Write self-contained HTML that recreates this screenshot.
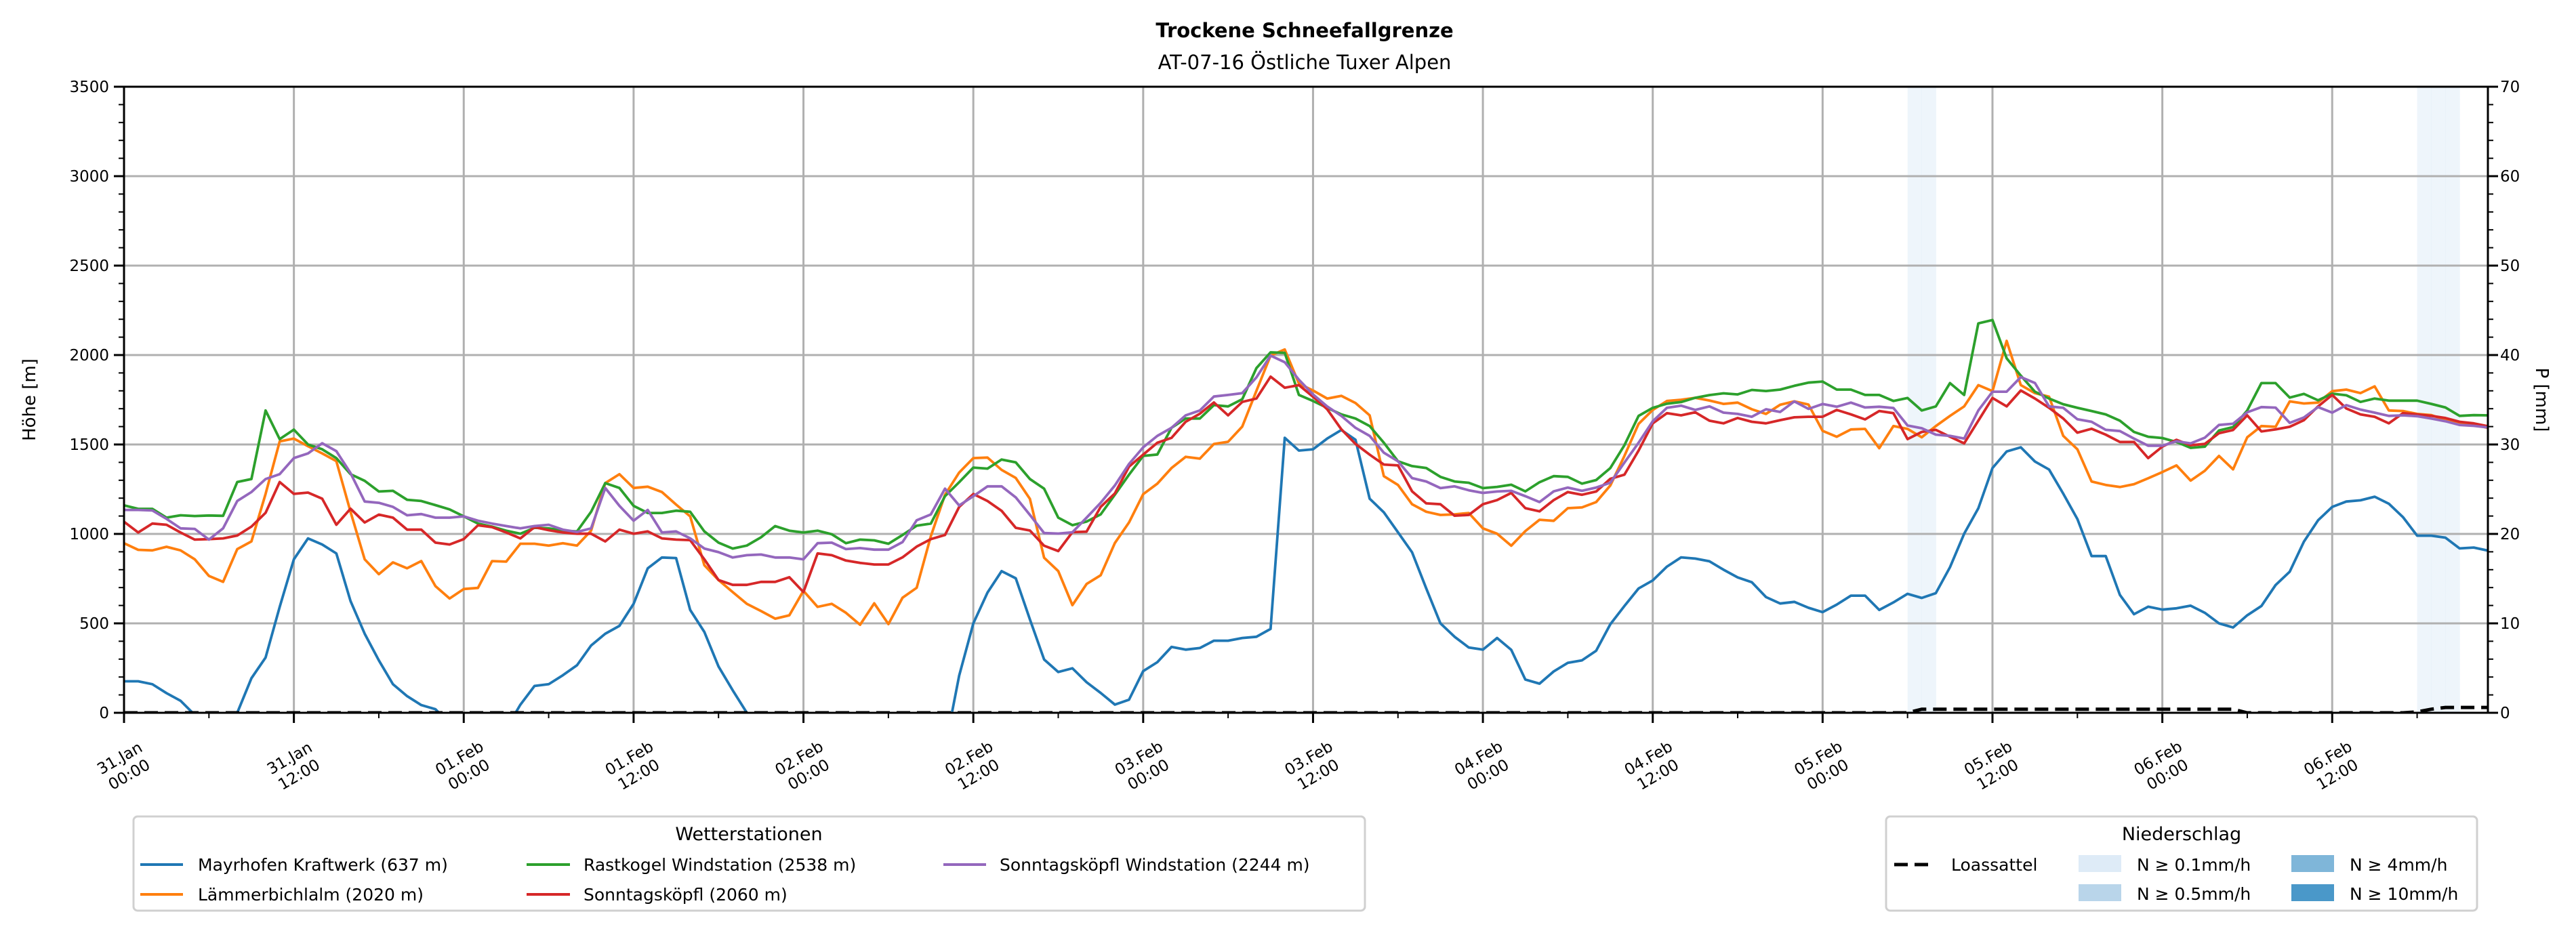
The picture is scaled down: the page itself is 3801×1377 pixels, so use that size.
<!DOCTYPE html>
<html><head><meta charset="utf-8">
<style>
html,body{margin:0;padding:0;background:#fff;}
svg{display:block;font-family:"DejaVu Sans","Liberation Sans",sans-serif;}
</style></head>
<body>
<svg id="chart" width="3801" height="1377" viewBox="0 0 3801 1377" xmlns="http://www.w3.org/2000/svg">
<defs><clipPath id="plotclip"><rect x="183" y="128" width="3488" height="924"/></clipPath></defs>
<rect x="0" y="0" width="3801" height="1377" fill="#fff"/>
<text x="1925" y="55" text-anchor="middle" font-size="29" font-weight="bold">Trockene Schneefallgrenze</text>
<text x="1925" y="102" text-anchor="middle" font-size="29">AT-07-16 Östliche Tuxer Alpen</text>
<g id="bands"></g>
<g id="grid"></g>
<g id="series" clip-path="url(#plotclip)"></g>
<g id="axes"></g>
<text x="0" y="0" transform="translate(52,590) rotate(-90)" text-anchor="middle" font-size="26">Höhe [m]</text>
<text x="0" y="0" transform="translate(3742,590) rotate(90)" text-anchor="middle" font-size="26">P [mm]</text>

<g>
<rect x="197" y="1205" width="1817" height="139" rx="6" fill="#fff" stroke="#d0d0d0" stroke-width="3"/>
<text x="1105" y="1240" text-anchor="middle" font-size="27">Wetterstationen</text>
<g><line x1="207" y1="1276" x2="270" y2="1276" stroke="#1f77b4" stroke-width="4"/><text x="292" y="1285" font-size="25">Mayrhofen Kraftwerk (637 m)</text></g>
<g><line x1="207" y1="1320" x2="270" y2="1320" stroke="#ff7f0e" stroke-width="4"/><text x="292" y="1329" font-size="25">Lämmerbichlalm (2020 m)</text></g>
<g><line x1="777" y1="1276" x2="841" y2="1276" stroke="#2ca02c" stroke-width="4"/><text x="861" y="1285" font-size="25">Rastkogel Windstation (2538 m)</text></g>
<g><line x1="777" y1="1320" x2="841" y2="1320" stroke="#d62728" stroke-width="4"/><text x="861" y="1329" font-size="25">Sonntagsköpfl (2060 m)</text></g>
<g><line x1="1392" y1="1276" x2="1455" y2="1276" stroke="#9467bd" stroke-width="4"/><text x="1475" y="1285" font-size="25">Sonntagsköpfl Windstation (2244 m)</text></g>
</g>

<g>
<rect x="2783" y="1205" width="872" height="139" rx="6" fill="#fff" stroke="#d0d0d0" stroke-width="3"/>
<text x="3219" y="1240" text-anchor="middle" font-size="27">Niederschlag</text>
<g><line x1="2795" y1="1276" x2="2852" y2="1276" stroke="#000" stroke-width="5" stroke-dasharray="20,10"/><text x="2879" y="1285" font-size="25">Loassattel</text></g>
<g><rect x="3067" y="1262" width="63" height="25" fill="#deebf7"/><text x="3153" y="1285" font-size="25">N ≥ 0.1mm/h</text></g>
<g><rect x="3067" y="1305" width="63" height="25" fill="#b9d5ea"/><text x="3153" y="1328" font-size="25">N ≥ 0.5mm/h</text></g>
<g><rect x="3381" y="1262" width="63" height="25" fill="#7fb6d9"/><text x="3467" y="1285" font-size="25">N ≥ 4mm/h</text></g>
<g><rect x="3381" y="1305" width="63" height="25" fill="#4a98c9"/><text x="3467" y="1328" font-size="25">N ≥ 10mm/h</text></g>
</g>
</svg>
<script>
const stationNames = ["mayrhofen","laemmerbichlalm","rastkogel","sonntagskoepfl","sonntagskoepfl-wind"];
const stationColors = ["#1f77b4","#ff7f0e","#2ca02c","#d62728","#9467bd"];
const mayrhofen = [176,176,160,110,67,-12,-150,-150,0,193,309,592,
858,975,941,891,625,442,293,160,93,43,20,-60,
-150,-150,-150,-90,45,150,160,210,266,376,442,486,
609,808,868,865,575,452,259,126,0,-120,-200,-200,
-200,-200,-200,-200,-200,-200,-200,-200,-200,-200,-200,208,
500,672,792,752,522,298,228,249,171,111,46,73,
233,283,368,353,362,403,403,418,425,469,1537,1466,
1473,1533,1581,1526,1197,1121,1009,897,695,500,425,365,
353,418,352,186,163,231,279,293,347,495,597,695,
740,817,869,862,847,800,757,730,647,611,620,587,
563,605,655,655,575,617,665,642,669,814,1001,1143,
1368,1461,1484,1405,1360,1225,1083,876,876,659,551,593,
577,584,599,559,500,477,545,597,714,789,957,1076,
1151,1181,1188,1208,1169,1094,990,990,979,919,924,907];
const laemmerbichlalm = [948,911,908,928,908,858,765,732,915,958,1224,1517,
1533,1490,1450,1407,1124,858,775,841,808,848,708,639,
692,698,848,845,945,945,935,948,935,1018,1284,1334,
1257,1264,1234,1164,1098,825,742,675,609,569,526,545,
682,592,609,559,492,612,496,643,699,987,1219,1343,
1424,1427,1358,1313,1196,867,792,602,720,769,949,1064,
1222,1281,1368,1431,1421,1503,1515,1600,1800,1997,2031,1840,
1802,1757,1772,1732,1663,1323,1274,1166,1124,1106,1109,1117,
1031,1001,934,1016,1079,1073,1144,1148,1178,1271,1436,1615,
1693,1743,1750,1761,1746,1727,1734,1697,1671,1722,1741,1723,
1576,1543,1584,1587,1479,1603,1587,1540,1603,1660,1713,1832,
1798,2079,1832,1787,1767,1548,1473,1293,1274,1262,1278,1311,
1346,1383,1298,1353,1436,1361,1540,1603,1599,1741,1729,1734,
1798,1807,1787,1825,1690,1687,1671,1664,1637,1622,1612,1592];
const rastkogel = [1160,1140,1140,1091,1104,1100,1103,1101,1290,1307,1690,1530,
1583,1500,1473,1424,1334,1297,1237,1241,1191,1184,1161,1137,
1098,1058,1041,1018,1001,1034,1031,1018,1014,1124,1284,1257,
1157,1117,1117,1130,1124,1014,951,918,935,981,1044,1018,
1008,1018,998,948,968,964,945,994,1046,1058,1211,1289,
1371,1365,1416,1400,1307,1253,1091,1049,1069,1109,1219,1331,
1436,1444,1593,1645,1645,1720,1713,1753,1927,2015,2012,1777,
1743,1705,1668,1645,1603,1510,1406,1379,1368,1319,1293,1286,
1256,1263,1275,1238,1289,1323,1319,1281,1301,1368,1496,1660,
1705,1728,1737,1761,1776,1786,1780,1805,1799,1807,1828,1846,
1852,1807,1807,1777,1777,1743,1760,1690,1713,1843,1777,2177,
2196,1982,1885,1795,1757,1725,1705,1687,1668,1633,1570,1543,
1536,1514,1481,1488,1578,1597,1690,1843,1843,1762,1783,1747,
1784,1775,1738,1757,1745,1745,1745,1727,1707,1660,1664,1663];
const sonntagskoepfl = [1068,1008,1058,1051,1008,968,971,975,991,1041,1118,1290,
1224,1231,1197,1051,1141,1064,1108,1091,1024,1024,951,941,
971,1048,1038,1008,975,1038,1021,1008,1001,1001,958,1024,
1001,1014,975,968,965,858,742,715,715,732,732,758,
675,891,881,851,838,829,829,869,929,971,994,1151,
1223,1184,1129,1034,1019,934,904,1010,1013,1151,1226,1376,
1443,1510,1537,1627,1672,1735,1663,1738,1757,1879,1817,1832,
1767,1697,1585,1503,1443,1388,1383,1238,1171,1166,1102,1106,
1166,1189,1229,1144,1126,1189,1234,1219,1237,1308,1331,1466,
1618,1675,1663,1680,1633,1618,1648,1627,1618,1636,1652,1655,
1655,1693,1668,1640,1687,1675,1530,1570,1582,1543,1506,1633,
1760,1713,1802,1757,1705,1645,1566,1588,1555,1514,1514,1424,
1488,1526,1496,1503,1563,1581,1663,1573,1584,1599,1636,1713,
1777,1701,1668,1655,1618,1675,1668,1660,1648,1627,1618,1602];
const sonntagskoepflWind = [1134,1134,1131,1084,1031,1028,968,1031,1184,1234,1307,1334,
1424,1450,1507,1463,1340,1181,1174,1151,1104,1111,1091,1091,
1098,1074,1058,1044,1031,1044,1051,1024,1011,1031,1257,1157,
1074,1134,1008,1014,975,918,898,868,881,885,868,868,
858,948,951,915,921,912,912,954,1076,1109,1253,1159,
1211,1266,1266,1204,1106,1005,1002,1009,1091,1174,1271,1391,
1484,1548,1593,1663,1690,1768,1777,1787,1875,1997,1960,1862,
1780,1713,1660,1593,1548,1454,1406,1312,1293,1256,1266,1244,
1229,1237,1241,1211,1178,1238,1259,1241,1259,1286,1399,1510,
1630,1705,1717,1693,1713,1678,1671,1655,1697,1682,1741,1699,
1726,1711,1734,1707,1711,1704,1606,1591,1555,1548,1533,1690,
1795,1795,1877,1844,1713,1705,1641,1627,1582,1575,1533,1493,
1493,1518,1506,1538,1609,1616,1680,1709,1706,1621,1651,1709,
1678,1720,1695,1678,1660,1663,1658,1645,1630,1609,1604,1595];
const loassattel = [0,0,0,0,0,0,0,0,0,0,0,0,
0,0,0,0,0,0,0,0,0,0,0,0,
0,0,0,0,0,0,0,0,0,0,0,0,
0,0,0,0,0,0,0,0,0,0,0,0,
0,0,0,0,0,0,0,0,0,0,0,0,
0,0,0,0,0,0,0,0,0,0,0,0,
0,0,0,0,0,0,0,0,0,0,0,0,
0,0,0,0,0,0,0,0,0,0,0,0,
0,0,0,0,0,0,0,0,0,0,0,0,
0,0,0,0,0,0,0,0,0,0,0,0,
0,0,0,0,0,0,0,0.4,0.4,0.4,0.4,0.4,
0.4,0.4,0.4,0.4,0.4,0.4,0.4,0.4,0.4,0.4,0.4,0.4,
0.4,0.4,0.4,0.4,0.4,0.4,0,0,0,0,0,0,
0,0,0,0,0,0,0.1,0.4,0.6,0.6,0.6,0.6];
const precipHours = [126,127,162,163,164];
const precipRates = [0.2,0.3,0.2,0.3,0.2];
const tickDates = ["31.Jan","31.Jan","01.Feb","01.Feb","02.Feb","02.Feb","03.Feb","03.Feb","04.Feb","04.Feb","05.Feb","05.Feb","06.Feb","06.Feb"];
const tickTimes = ["00:00","12:00","00:00","12:00","00:00","12:00","00:00","12:00","00:00","12:00","00:00","12:00","00:00","12:00"];
const yTicks = [0,500,1000,1500,2000,2500,3000,3500];
const y2Ticks = [0,10,20,30,40,50,60,70];

const NS = "http://www.w3.org/2000/svg";
const X0 = 183, X1 = 3671, Y0 = 1052, Y1 = 128, HMAX = 167;
function xOf(h){ return X0 + h * (X1 - X0) / HMAX; }
function yOf(v){ return Y0 - v * (Y0 - Y1) / 3500; }
function y2Of(v){ return Y0 - v * (Y0 - Y1) / 70; }
function mk(tag, attrs, parent){
  const e = document.createElementNS(NS, tag);
  for (const k in attrs) e.setAttribute(k, attrs[k]);
  parent.appendChild(e);
  return e;
}
const bands = document.getElementById("bands");
const grid = document.getElementById("grid");
const series = document.getElementById("series");
const axes = document.getElementById("axes");

precipHours.forEach((h, i) => {
  const r = mk("rect", {x: xOf(h), y: Y1, width: xOf(h + 1) - xOf(h) + 0.5, height: Y0 - Y1, fill: "#deebf7", "fill-opacity": 0.5}, bands);
  
  
});

for (let i = 0; i < tickDates.length; i++) {
  const gx = xOf(i * 12);
  const l = mk("line", {x1: gx, y1: Y1, x2: gx, y2: Y0, stroke: "#b0b0b0", "stroke-width": 3}, grid);
  
  
}
yTicks.forEach(v => {
  const l = mk("line", {x1: X0, y1: yOf(v), x2: X1, y2: yOf(v), stroke: "#b0b0b0", "stroke-width": 3}, grid);
  
  
});

const allSeries = [mayrhofen, laemmerbichlalm, rastkogel, sonntagskoepfl, sonntagskoepflWind];
allSeries.forEach((arr, si) => {
  const pts = arr.map((v, h) => xOf(h).toFixed(1) + "," + yOf(v).toFixed(1)).join(" ");
  const p = mk("polyline", {points: pts, fill: "none", stroke: stationColors[si], "stroke-width": 3.8, "stroke-linejoin": "round"}, series);
  
  
});
const lpts = loassattel.map((v, h) => xOf(h).toFixed(1) + "," + y2Of(v).toFixed(1)).join(" ");
const lp = mk("polyline", {points: lpts, fill: "none", stroke: "#000", "stroke-width": 5, "stroke-dasharray": "20,10"}, series);



const frame = mk("rect", {x: X0, y: Y1, width: X1 - X0, height: Y0 - Y1, fill: "none", stroke: "#000", "stroke-width": 3}, axes);



for (let v = 0; v <= 3500; v += 100) {
  const major = v % 500 === 0;
  const t = mk("line", {x1: X0 - (major ? 15 : 8), y1: yOf(v), x2: X0, y2: yOf(v), stroke: "#000", "stroke-width": major ? 3 : 2}, axes);
  
  
}
yTicks.forEach(v => {
  const t = mk("text", {x: X0 - 22, y: yOf(v) + 8, "text-anchor": "end", "font-size": 23}, axes);
  t.textContent = String(v);
  
  
});
for (let v = 0; v <= 70; v += 2) {
  const major = v % 10 === 0;
  const t = mk("line", {x1: X1, y1: y2Of(v), x2: X1 + (major ? 15 : 8), y2: y2Of(v), stroke: "#000", "stroke-width": major ? 3 : 2}, axes);
  
  
}
y2Ticks.forEach(v => {
  const t = mk("text", {x: X1 + 18, y: y2Of(v) + 8, "text-anchor": "start", "font-size": 23}, axes);
  t.textContent = String(v);
  
  
});
for (let h = 0; h <= HMAX; h += 6) {
  const major = h % 12 === 0;
  const t = mk("line", {x1: xOf(h), y1: Y0, x2: xOf(h), y2: Y0 + (major ? 15 : 8), stroke: "#000", "stroke-width": major ? 3 : 2}, axes);
  
  
}
tickDates.forEach((d, i) => {
  const cx = xOf(i * 12), cy = 1130;
  const g = mk("text", {transform: "translate(" + cx + "," + cy + ") rotate(-30)", "text-anchor": "middle", "font-size": 23}, axes);
  
  
  const a = mk("tspan", {x: 0, y: -5}, g);
  a.textContent = d;
  const b = mk("tspan", {x: 0, y: 23}, g);
  b.textContent = tickTimes[i];
});
</script>
</body></html>
